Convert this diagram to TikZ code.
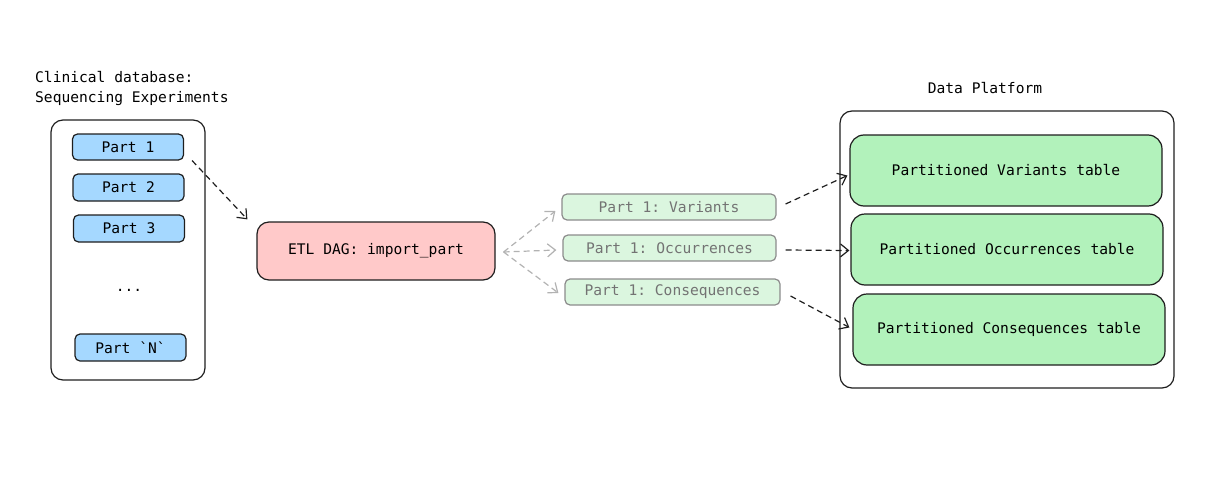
\documentclass[tikz,border=0pt]{standalone}
\usepackage{fontspec}
\setmonofont{DejaVu Sans Mono}
\usetikzlibrary{arrows.meta,positioning}
\definecolor{partblue}{HTML}{A5D8FF}
\definecolor{etlpink}{HTML}{FFC9C9}
\definecolor{tablegreen}{HTML}{B2F2BB}
\definecolor{fadegreen}{HTML}{DBF6DF}
\definecolor{inkdark}{HTML}{1E1E1E}

\begin{document}
\begin{tikzpicture}[x=1pt,y=-1pt,
    font=\ttfamily\fontsize{14.6}{20}\selectfont,
    box/.style={draw=inkdark,line width=1.2pt,rounded corners=5pt,inner sep=0pt,minimum height=26pt},
    partbox/.style={box,fill=partblue,minimum width=111pt},
    fadebox/.style={box,draw=black!45,fill=fadegreen,text=black!55,minimum width=214pt},
    tablebox/.style={box,fill=tablegreen,rounded corners=14pt,minimum width=312pt,minimum height=71pt},
    holder/.style={draw=inkdark,line width=1.2pt,rounded corners=12pt,inner sep=0pt},
    flow/.style={draw=inkdark,dash pattern=on 6pt off 4pt,line width=1.2pt,-{Straight Barb[length=8pt,width=13pt]}},
    fadeflow/.style={flow,draw=black!30}]
    \useasboundingbox (0,0) rectangle (1212,487);

    % source database
    \node[anchor=west,align=left,inner sep=0pt] (dbtitle) at (35,88) {Clinical database:\\Sequencing Experiments};
    \node[holder,minimum width=154pt,minimum height=260pt] (db) at (128,250) {};
    \node[partbox] (p1) at (128,147) {Part 1};
    \node[partbox,minimum height=27pt] (p2) at (128.5,187.5) {Part 2};
    \node[partbox,minimum height=27pt] (p3) at (129,228.5) {Part 3};
    \node (dots) at (129,290) {...};
    \node[partbox,minimum height=27pt] (pn) at (130.5,347.5) {Part `N`};

    % etl step
    \node[box,fill=etlpink,rounded corners=12pt,minimum width=238pt,minimum height=58pt] (etl) at (376,251) {ETL DAG: import\_part};

    % intermediate outputs
    \node[fadebox] (var) at (669,207) {Part 1: Variants};
    \node[fadebox,minimum width=213pt] (occ) at (669.5,248) {Part 1: Occurrences};
    \node[fadebox,minimum width=215pt] (cons) at (672.5,292) {Part 1: Consequences};

    % data platform
    \node (dptitle) at (985,88) {Data Platform};
    \node[holder,minimum width=334pt,minimum height=277pt] (dp) at (1007,249.5) {};
    \node[tablebox] (tvar) at (1006,170.5) {Partitioned Variants table};
    \node[tablebox] (tocc) at (1007,249.5) {Partitioned Occurrences table};
    \node[tablebox] (tcons) at (1009,329.5) {Partitioned Consequences table};

    % arrows
    \draw[flow] ([shift={(8,0)}]p1.south east) -- ([shift={(-9,-2)}]etl.north west);
    \foreach \t/\dy in {var/4,occ/2,cons/1}{
        \draw[fadeflow] ([shift={(8,1)}]etl.east) -- ([shift={(-6,\dy)}]\t.west);
    }
    \draw[flow] ([shift={(9,-3)}]var.east) -- ([shift={(-2,5)}]tvar.west);
    \draw[flow] ([shift={(9,2)}]occ.east) -- ([shift={(-1,1)}]tocc.west);
    \draw[flow] ([shift={(10,4)}]cons.east) -- ([shift={(-3,-2)}]tcons.west);
\end{tikzpicture}
\end{document}
